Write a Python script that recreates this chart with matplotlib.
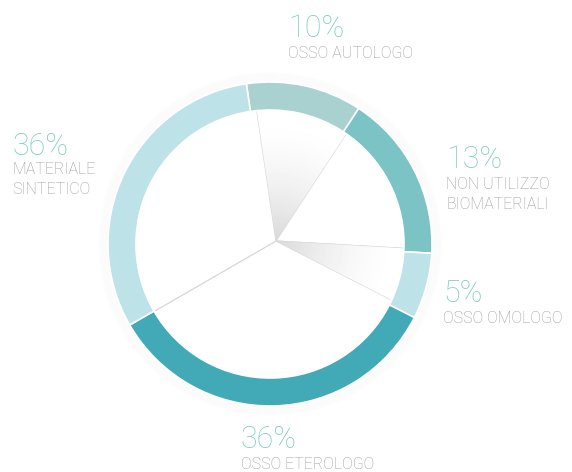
import numpy as np
import matplotlib.pyplot as plt

# arc sizes as drawn (degrees), labels as printed
names = ['OSSO AUTOLOGO', 'NON UTILIZZO\nBIOMATERIALI', 'OSSO OMOLOGO', 'OSSO ETEROLOGO', 'MATERIALE\nSINTETICO']
percents = ['10%', '13%', '5%', '36%', '36%']
arcs = [41.6, 60.1, 23.7, 123.0, 111.6]
ring_colors = ['#a8d1cf', '#7bc3c5', '#bde2e8', '#42a9b7', '#bde2e8']
shaded = [True, False, True, False, False]

W, H = 572, 472
fig = plt.figure(figsize=(W / 100, H / 100), dpi=100)
ax = fig.add_axes([0, 0, 1, 1])
ax.axis('off')

ring_c = (270, H - 244)
inner_c = (276, H - 241)
R = 162
start = 98.4

# soft shadow round the ring
for i in range(6):
    c = plt.Circle(ring_c, R + 1 + i * 1.5, fill=False, lw=2, color='#000000', alpha=0.006)
    ax.add_patch(c)

# inner white wedges
inner, _ = ax.pie(arcs, colors=['white'] * 5, startangle=start, counterclock=False,
                  center=inner_c, radius=146,
                  wedgeprops=dict(edgecolor='#d8d8d8', linewidth=0.8))

# grey radial shading inside some wedges
n = 300
gx = np.linspace(inner_c[0] - 150, inner_c[0] + 150, n)
gy = np.linspace(inner_c[1] - 150, inner_c[1] + 150, n)
GX, GY = np.meshgrid(gx, gy)
rr = np.hypot(GX - inner_c[0], GY - inner_c[1]) / 125
shade = 1 - 0.15 * np.clip(1 - rr, 0, 1) ** 1.6
for w, s in zip(inner, shaded):
    if s:
        im = ax.imshow(shade, cmap='gray', vmin=0, vmax=1, origin='lower',
                       extent=(gx[0], gx[-1], gy[0], gy[-1]), zorder=w.get_zorder() + 0.1)
        im.set_clip_path(w)

# outer ring
ring, _ = ax.pie(arcs, colors=ring_colors, startangle=start, counterclock=False,
                 center=ring_c, radius=R,
                 wedgeprops=dict(width=28, edgecolor='white', linewidth=1.2))
for w in ring:
    w.set_zorder(5)
ax.set_xlim(0, W)
ax.set_ylim(0, H)
ax.set_aspect('equal')

pct_color = '#7fcdc1'
lab_color = '#9a9a9a'
font = 'Roboto'

# (x, baseline of percent, top of label) in pixels
label_pos = [(288, 37, 47), (446, 168, 178), (443, 302, 312), (241, 448, 458), (12, 155, 163)]
for (x, yb, yl), p, name in zip(label_pos, percents, names):
    ax.text(x, H - yb, p, fontsize=22, color=pct_color, family=font,
            fontweight='light', va='baseline', ha='left')
    ax.text(x, H - yl + 1, name, fontsize=11.5, color=lab_color, family=font,
            fontweight='light', va='top', ha='left', linespacing=1.45)

fig.savefig('out.png', dpi=100)
